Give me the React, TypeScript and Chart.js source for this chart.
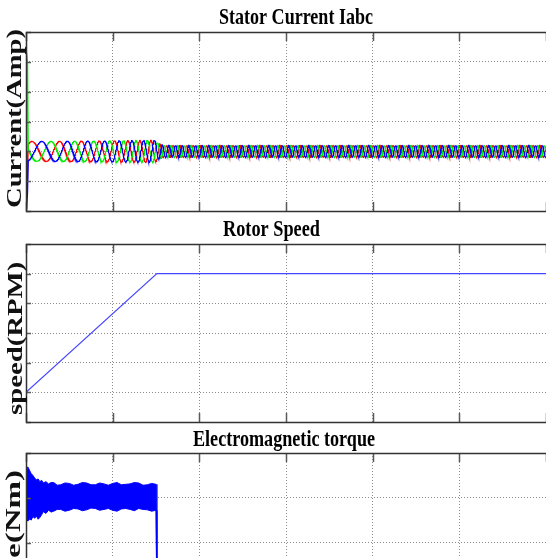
import React, { useEffect, useRef } from "react";
import { Chart, registerables } from "chart.js";
Chart.register(...registerables);

// ---- axes ----
const timeRange = [0, 3, 0.5]; // s: min, max, step
const currentRange = [-20, 40, 10]; // A
const speedRange = [-300, 1500, 300]; // RPM
const torqueRange = [-10, 30, 10]; // Nm

// ---- stator currents: start-up transient (A) ----
const startTime = [0, 0.004, 0.009];
const iaStart = [0, -19.5, -14]; // blue
const ibStart = [0, 33, 30]; // green
const icStart = [0, -13.5, -9]; // red

// supply frequency (Hz), read from the spacing of the current peaks
const freqTime = [0.013, 0.15, 0.3, 0.45, 0.6, 0.75, 0.77, 3];
const freqHz = [5.5, 6.5, 8.5, 11, 14, 17, 26, 26];
// peak current (A)
const ampTime = [0.013, 0.3, 0.6, 0.745, 0.765, 0.8, 3];
const ampA = [3.3, 3.4, 3.6, 3.7, 2.6, 2.0, 2.0];
const phaseStart = -2.85; // rad at t = 0.013 s

// ---- rotor speed ----
const speedTime = [0, 0.755, 3];
const speedRpm = [0, 1200, 1200];

// ---- electromagnetic torque envelope ----
const torqueTime = [0.002, 0.006, 0.01, 0.016, 0.022, 0.03, 0.04, 0.05, 0.06, 0.07, 0.08, 0.09, 0.1, 0.115, 0.13, 0.145, 0.16, 0.18, 0.2, 0.225, 0.25, 0.275, 0.3, 0.325, 0.35, 0.375, 0.4, 0.425, 0.45, 0.475, 0.5, 0.525, 0.55, 0.575, 0.6, 0.625, 0.65, 0.675, 0.7, 0.725, 0.75, 0.755, 3];
const torqueUpper = [24.5, 26.5, 26.9, 26.5, 26.0, 25.4, 25.0, 24.4, 24.0, 24.2, 23.6, 23.9, 23.3, 23.6, 23.1, 23.4, 23.4, 22.8, 22.9, 23.3, 23.2, 22.8, 23.0, 23.4, 23.3, 22.9, 22.9, 23.3, 23.1, 22.8, 23.2, 23.4, 22.9, 23.0, 23.1, 23.4, 23.3, 22.8, 22.9, 23.2, 23.0, -5, -5];
const torqueLower = [18.0, 15.2, 14.8, 15.0, 15.3, 15.0, 15.8, 15.4, 15.9, 15.2, 15.6, 16.2, 16.9, 16.5, 17.2, 16.8, 17.0, 17.4, 17.4, 17.0, 17.2, 17.6, 17.5, 17.1, 17.3, 17.7, 17.6, 17.2, 17.4, 17.6, 17.2, 17.0, 17.5, 17.6, 17.4, 17.1, 17.6, 17.4, 17.3, 17.0, 17.2, -5, -5];

function lerp(ts: number[], vs: number[], t: number) {
  if (t <= ts[0]) return vs[0];
  for (let i = 1; i < ts.length; i++) {
    if (t <= ts[i]) {
      const k = (t - ts[i - 1]) / (ts[i] - ts[i - 1]);
      return vs[i - 1] + k * (vs[i] - vs[i - 1]);
    }
  }
  return vs[vs.length - 1];
}

function buildCurrents() {
  const a: { x: number; y: number }[] = [];
  const b: { x: number; y: number }[] = [];
  const c: { x: number; y: number }[] = [];
  startTime.forEach((t, i) => {
    a.push({ x: t, y: iaStart[i] });
    b.push({ x: t, y: ibStart[i] });
    c.push({ x: t, y: icStart[i] });
  });
  const dt = 0.001;
  let phi = phaseStart;
  const sh = (2 * Math.PI) / 3;
  for (let t = freqTime[0]; t <= timeRange[1] + 1e-9; t += dt) {
    const A = lerp(ampTime, ampA, t);
    a.push({ x: t, y: A * Math.cos(phi) });
    b.push({ x: t, y: A * Math.cos(phi - sh) });
    c.push({ x: t, y: A * Math.cos(phi + sh) });
    phi += 2 * Math.PI * lerp(freqTime, freqHz, t) * dt;
  }
  return { a, b, c };
}

type Decor = {
  title: string;
  tx0: number;
  tx1: number;
  tBase: number;
  label: string;
  lBase: number;
  lTop: number;
  lBottom?: number;
  fitText?: string;
  fitLen?: number;
};

const FONT = 'bold 23px "Liberation Serif", "Times New Roman", serif';
const LFONT = 'bold 21px "Liberation Serif", "Times New Roman", serif';

function decorPlugin(d: Decor) {
  return {
    id: "decor",
    afterDraw(chart: any) {
      const { ctx, chartArea: ar, scales } = chart;
      const xs = scales.x;
      const ys = scales.y;
      ctx.save();
      // tick marks (inside)
      ctx.strokeStyle = "#5a5a5a";
      ctx.lineWidth = 1.5;
      ctx.beginPath();
      for (const t of xs.ticks) {
        const px = Math.round(xs.getPixelForValue(t.value)) + 0.5;
        ctx.moveTo(px, ar.top);
        ctx.lineTo(px, ar.top + 9);
        ctx.moveTo(px, ar.bottom);
        ctx.lineTo(px, ar.bottom - 9);
      }
      for (const t of ys.ticks) {
        const py = Math.round(ys.getPixelForValue(t.value)) + 0.5;
        ctx.moveTo(ar.left, py);
        ctx.lineTo(ar.left + 5, py);
      }
      ctx.stroke();
      // frame
      ctx.strokeStyle = "#333";
      ctx.lineWidth = 1.5;
      ctx.beginPath();
      ctx.moveTo(ar.right + 10, ar.top + 0.5);
      ctx.lineTo(ar.left + 0.5, ar.top + 0.5);
      ctx.lineTo(ar.left + 0.5, ar.bottom + 0.5);
      ctx.lineTo(ar.right + 10, ar.bottom + 0.5);
      ctx.stroke();
      // title
      ctx.fillStyle = "#000";
      ctx.font = FONT;
      ctx.textAlign = "left";
      ctx.textBaseline = "alphabetic";
      const tw = ctx.measureText(d.title).width;
      ctx.save();
      ctx.translate(d.tx0, d.tBase);
      ctx.scale((d.tx1 - d.tx0) / tw, 1);
      ctx.fillText(d.title, 0, 0);
      ctx.restore();
      // y label
      ctx.fillStyle = "#111";
      ctx.font = LFONT;
      const lw = ctx.measureText(d.label).width;
      let s = 1.37;
      if (d.lBottom !== undefined) s = (d.lBottom - d.lTop) / lw;
      else if (d.fitText && d.fitLen) s = d.fitLen / ctx.measureText(d.fitText).width;
      const yb = d.lTop + lw * s;
      ctx.save();
      ctx.translate(d.lBase, yb);
      ctx.rotate(-Math.PI / 2);
      ctx.scale(s, 1);
      ctx.fillText(d.label, 0, 0);
      ctx.restore();
      ctx.restore();
    },
  };
}

function scaleOpts(r: number[]) {
  return {
    type: "linear" as const,
    min: r[0],
    max: r[1],
    ticks: { display: false, stepSize: r[2] },
    grid: { color: "#8c8c8c", lineWidth: 1, drawTicks: false },
    border: { display: false, dash: [1, 2] },
  };
}

function baseOptions(yr: number[], pad: { top: number; bottom: number }) {
  return {
    responsive: false,
    animation: false as const,
    devicePixelRatio: 1,
    events: [],
    layout: { padding: { left: 26, right: 14, top: pad.top, bottom: pad.bottom } },
    plugins: { legend: { display: false }, tooltip: { enabled: false }, title: { display: false } },
    elements: { point: { radius: 0 }, line: { tension: 0 } },
    scales: { x: scaleOpts(timeRange), y: scaleOpts(yr) },
  };
}

export default function App() {
  const r1 = useRef<HTMLCanvasElement>(null);
  const r2 = useRef<HTMLCanvasElement>(null);
  const r3 = useRef<HTMLCanvasElement>(null);

  useEffect(() => {
    const cur = buildCurrents();
    const c1 = new Chart(r1.current!, {
      type: "line",
      data: {
        datasets: [
          { data: cur.a, borderColor: "#0000ff", borderWidth: 1.2, parsing: false } as any,
          { data: cur.b, borderColor: "#00ee00", borderWidth: 1.2, parsing: false } as any,
          { data: cur.c, borderColor: "#ff0000", borderWidth: 1.2, parsing: false } as any,
        ],
      },
      options: baseOptions(currentRange, { top: 32, bottom: 3 }) as any,
      plugins: [
        decorPlugin({ title: "Stator Current Iabc", tx0: 219, tx1: 373, tBase: 24, label: "Current(Amp)", lBase: 21, lTop: 29, lBottom: 208 }),
      ],
    });
    const c2 = new Chart(r2.current!, {
      type: "line",
      data: {
        datasets: [
          { data: speedTime.map((t, i) => ({ x: t, y: speedRpm[i] })), borderColor: "rgb(70,70,255)", borderWidth: 1.2 } as any,
        ],
      },
      options: baseOptions(speedRange, { top: 30, bottom: 6 }) as any,
      plugins: [
        decorPlugin({ title: "Rotor Speed", tx0: 223, tx1: 320, tBase: 22, label: "speed(RPM)", lBase: 22, lTop: 47.7, lBottom: 201 }),
      ],
    });
    const c3 = new Chart(r3.current!, {
      type: "line",
      data: {
        datasets: [
          { data: torqueTime.map((t, i) => ({ x: t, y: torqueUpper[i] })), borderColor: "#0000ff", borderWidth: 1, fill: false } as any,
          { data: torqueTime.map((t, i) => ({ x: t, y: torqueLower[i] })), borderColor: "#0000ff", borderWidth: 1, fill: "-1", backgroundColor: "#0000ff" } as any,
        ],
      },
      options: baseOptions(torqueRange, { top: 25, bottom: 8 }) as any,
      plugins: [
        decorPlugin({ title: "Electromagnetic torque", tx0: 193, tx1: 375, tBase: 18, label: "Torque(Nm)", lBase: 20, lTop: 42, fitText: "e(Nm)", fitLen: 88 }),
      ],
    });
    return () => {
      c1.destroy();
      c2.destroy();
      c3.destroy();
    };
  }, []);

  return (
    <div style={{ position: "fixed", left: 0, top: 0, width: 546, height: 558, overflow: "hidden", background: "#fff" }}>
      <canvas ref={r1} width={560} height={214} style={{ position: "absolute", left: 0, top: 0 }} />
      <canvas ref={r2} width={560} height={214} style={{ position: "absolute", left: 0, top: 214 }} />
      <canvas ref={r3} width={560} height={212} style={{ position: "absolute", left: 0, top: 428 }} />
    </div>
  );
}
